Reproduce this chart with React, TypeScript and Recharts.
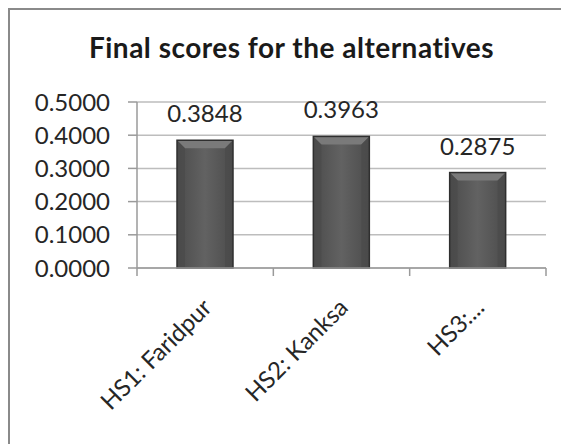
import React from "react";
import { BarChart, Bar, XAxis, YAxis, CartesianGrid, LabelList } from "recharts";

const categories = ["HS1: Faridpur", "HS2: Kanksa", "HS3:..."];
const scores = [0.3848, 0.3963, 0.2875];
const yTicks = [0, 0.1, 0.2, 0.3, 0.4, 0.5];
const boundaryTicks = [0, 1, 2, 3];
const title = "Final scores for the alternatives";

const data = categories.map((name, i) => ({ name, score: scores[i], pos: i + 0.5 }));

const FONT = "Lato, 'Open Sans', sans-serif";

const BevelBar = (props: any) => {
  const { x, y, width, height } = props;
  if (!width || !height) return null;
  const b = Math.min(8, width / 4, height / 2);
  return (
    <g>
      <rect x={x} y={y} width={width} height={height} fill="url(#barGrad)" />
      <polygon
        points={`${x},${y} ${x + width},${y} ${x + width - b},${y + b} ${x + b},${y + b}`}
        fill="#7a7a7a"
      />
      <polygon
        points={`${x},${y} ${x + b},${y + b} ${x + b},${y + height} ${x},${y + height}`}
        fill="#4a4a4a"
        opacity={0.6}
      />
      <polygon
        points={`${x + width},${y} ${x + width - b},${y + b} ${x + width - b},${y + height} ${x + width},${y + height}`}
        fill="#4a4a4a"
        opacity={0.6}
      />
      <rect x={x} y={y} width={width} height={height} fill="none" stroke="#2f2f2f" strokeWidth={1.5} />
    </g>
  );
};

const CatTick = (props: any) => {
  const { x, y, payload } = props;
  return (
    <g transform={`translate(${x + 8},${y + 40})`}>
      <text
        transform="rotate(-45)"
        textAnchor="end"
        fontFamily={FONT}
        fontSize={24}
        fill="#262626"
      >
        {payload.value}
      </text>
    </g>
  );
};

const EmptyTick = () => <g />;

export default function App() {
  return (
    <div
      style={{
        position: "relative",
        width: 559,
        height: 434,
        borderTop: "2px solid #8a8a8a",
        borderLeft: "2px solid #8a8a8a",
        background: "#fff",
      }}
    >
      <BarChart
        width={559}
        height={434}
        data={data}
        margin={{ top: 92, right: 23, left: 0, bottom: 26 }}
      >
        <defs>
          <linearGradient id="barGrad" x1="0" y1="0" x2="1" y2="0">
            <stop offset="0%" stopColor="#4c4c4c" />
            <stop offset="50%" stopColor="#626262" />
            <stop offset="100%" stopColor="#4c4c4c" />
          </linearGradient>
        </defs>
        <CartesianGrid vertical={false} stroke="#bdbdbd" strokeWidth={1.5} />
        <XAxis
          xAxisId={0}
          type="number"
          dataKey="pos"
          domain={[0, 3]}
          ticks={boundaryTicks}
          interval={0}
          tick={<EmptyTick />}
          tickSize={8}
          axisLine={{ stroke: "#9a9a9a", strokeWidth: 1.5 }}
          tickLine={{ stroke: "#9a9a9a", strokeWidth: 1.5 }}
          height={1}
          allowDataOverflow
        />
        <XAxis
          xAxisId={1}
          dataKey="name"
          interval={0}
          tickLine={false}
          tickSize={0}
          tickMargin={0}
          axisLine={false}
          tick={<CatTick />}
          height={149}
        />
        <YAxis
          domain={[0, 0.5]}
          ticks={yTicks}
          interval={0}
          width={127}
          tickSize={9}
          tickMargin={18}
          axisLine={{ stroke: "#9a9a9a", strokeWidth: 1.5 }}
          tickLine={{ stroke: "#9a9a9a", strokeWidth: 1.5 }}
          tickFormatter={(v: number) => v.toFixed(4)}
          tick={{ fontFamily: FONT, fontSize: 24, fill: "#262626" }}
        />
        <Bar
          xAxisId={1}
          dataKey="score"
          barSize={56}
          isAnimationActive={false}
          shape={<BevelBar />}
        >
          <LabelList
            dataKey="score"
            position="top"
            offset={18}
            formatter={(v: number) => v.toFixed(4)}
            style={{ fontFamily: FONT, fontSize: 24, fill: "#262626" }}
          />
        </Bar>
      </BarChart>
      <svg
        width={559}
        height={70}
        style={{ position: "absolute", left: 0, top: 0, pointerEvents: "none" }}
      >
        <text
          x={281.5}
          y={48}
          textAnchor="middle"
          fontFamily={FONT}
          fontWeight="bold"
          fontSize={28}
          letterSpacing={0.5}
          fill="#1a1a1a"
        >
          {title}
        </text>
      </svg>
    </div>
  );
}
